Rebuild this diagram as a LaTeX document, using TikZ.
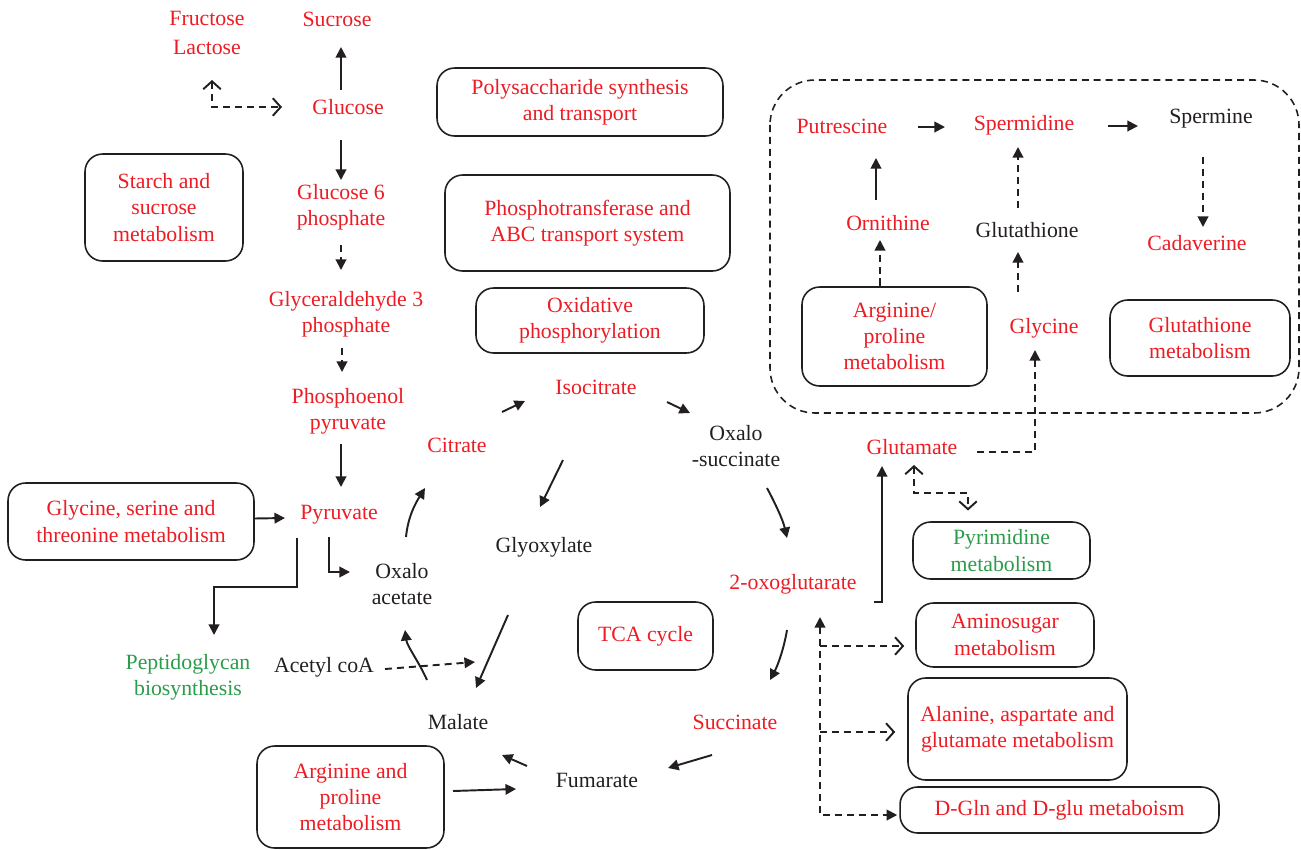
\documentclass[tikz,border=0pt]{standalone}
\usepackage{fontspec}
\setmainfont{Liberation Serif}
\usetikzlibrary{arrows.meta}
\definecolor{pred}{HTML}{ED1C24}
\definecolor{pgreen}{HTML}{2A9D4A}
\definecolor{ink}{HTML}{231F20}

\begin{document}
\begin{tikzpicture}[x=0.02cm, y=-0.02cm,
  font=\fontsize{12.4}{15}\selectfont,
  met/.style={text=pred, align=center, inner sep=1pt},
  cpd/.style={text=ink, align=center, inner sep=1pt},
  grn/.style={text=pgreen, align=center, inner sep=1pt},
  pathway/.style={draw=ink, line width=0.9pt, rounded corners=10pt,
                  align=center, text=pred, inner sep=2pt},
  conn/.style={ink, line width=1.1pt, -{Triangle[length=6pt,width=6pt]}},
  dconn/.style={conn, dash pattern=on 4pt off 2.8pt},
  dboth/.style={dconn, {Triangle[length=6pt,width=6pt]}-{Triangle[length=6pt,width=6pt]}},
  oconn/.style={dconn, -{Straight Barb[length=4.5pt,width=10pt]}},
  oboth/.style={dconn, {Straight Barb[length=4.5pt,width=10pt]}-{Straight Barb[length=4.5pt,width=10pt]}}
]
  \useasboundingbox (0,0) rectangle (1301,849);

  % polyamine region
  \draw[ink, line width=0.9pt, dash pattern=on 4pt off 2.8pt, rounded corners=0.9cm]
    (770,80) rectangle (1299,413);

  % compounds
  \node[met] (fl)  at (207,33)  {Fructose\\[1.5pt]Lactose};
  \node[met] (suc) at (337,19)  {Sucrose};
  \node[met] (glc) at (348,107) {Glucose};
  \node[met] (g6p) at (341,207) {Glucose 6\\phosphate};
  \node[met] (gap) at (346,314) {Glyceraldehyde 3\\phosphate};
  \node[met] (pep) at (348,411) {Phosphoenol\\pyruvate};
  \node[met] (pyr) at (339,515) {Pyruvate};
  \node[met] (cit) at (457,445) {Citrate};
  \node[met] (iso) at (596,387) {Isocitrate};
  \node[cpd] (oxs) at (736,446) {Oxalo\\-succinate};
  \node[cpd] (glx) at (544,547) {Glyoxylate};
  \node[cpd] (oaa) at (402,584) {Oxalo\\acetate};
  \node[cpd] (acoa) at (324,667) {Acetyl coA};
  \node[cpd] (mal) at (458,722) {Malate};
  \node[cpd] (fum) at (597,780) {Fumarate};
  \node[met] (suca) at (735,722) {Succinate};
  \node[met] (ogl) at (793,584) {2-oxoglutarate};
  \node[met] (glu) at (912,447) {Glutamate};
  \node[grn] (pgn) at (188,677) {Peptidoglycan\\biosynthesis};
  \node[met] (put) at (842,126) {Putrescine};
  \node[met] (spd) at (1024,125) {Spermidine};
  \node[cpd] (spm) at (1211,119) {Spermine};
  \node[met] (orn) at (888,223) {Ornithine};
  \node[cpd] (gsh) at (1027,230) {Glutathione};
  \node[met] (cad) at (1197,243) {Cadaverine};
  \node[met] (gly) at (1044,328) {Glycine};

  % pathways
  \node[pathway, minimum width=3.16cm, minimum height=2.14cm] (starch) at (164,207.5) {Starch and\\sucrose\\metabolism};
  \node[pathway, minimum width=5.72cm, minimum height=1.36cm] (poly) at (580,102) {Polysaccharide synthesis\\and transport};
  \node[pathway, minimum width=5.70cm, minimum height=1.92cm] (pts) at (587.5,223) {Phosphotransferase and\\ABC transport system};
  \node[pathway, minimum width=4.56cm, minimum height=1.30cm] (oxp) at (590,320.5) {Oxidative\\phosphorylation};
  \node[pathway, minimum width=4.92cm, minimum height=1.54cm] (gst) at (131,521.5) {Glycine, serine and\\threonine metabolism};
  \node[pathway, minimum width=2.70cm, minimum height=1.36cm] (tca) at (645.5,636) {TCA cycle};
  \node[pathway, minimum width=3.74cm, minimum height=2.04cm] (argpro) at (350.5,797) {Arginine and\\proline\\metabolism};
  \node[pathway, minimum width=3.70cm, minimum height=1.98cm] (argp2) at (894.5,336.5) {Arginine/\\proline\\metabolism};
  \node[pathway, minimum width=3.60cm, minimum height=1.52cm] (gshm) at (1200,338) {Glutathione\\metabolism};
  \node[pathway, minimum width=3.54cm, minimum height=1.14cm, text=pgreen] (pyrm) at (1001.5,550.5) {Pyrimidine\\metabolism};
  \node[pathway, minimum width=3.56cm, minimum height=1.28cm] (amino) at (1005,635) {Aminosugar\\metabolism};
  \node[pathway, minimum width=4.38cm, minimum height=2.04cm] (ala) at (1017.5,729) {Alanine, aspartate and\\glutamate metabolism};
  \node[pathway, minimum width=6.38cm, minimum height=0.92cm] (dgln) at (1059.5,810) {D-Gln and D-glu metaboism};

  % glycolysis
  \draw[conn] ([shift={(-7,-17)}]glc.center) -- ([shift={(4,28)}]suc.center);
  \draw[oboth] ([shift={(5,47)}]fl.center) |- ([shift={(-66,0)}]glc.center);
  \draw[conn] ([shift={(-7,33)}]glc.center) -- ([shift={(0,-27)}]g6p.center);
  \draw[dconn] ([shift={(0,38)}]g6p.center) -- ([shift={(-5,-44)}]gap.center);
  \draw[dconn] ([shift={(-4,34)}]gap.center) -- ([shift={(-6,-39)}]pep.center);
  \draw[conn] ([shift={(-7,33)}]pep.center) -- ([shift={(2,-28)}]pyr.center);
  \draw[conn] ([shift={(123,-3)}]gst.center) -- ([shift={(-54,3)}]pyr.center);
  \draw[conn] ([shift={(-42,23)}]pyr.center) -- ++(0,49) -| ([shift={(26,-42)}]pgn.center);
  \draw[conn] ([shift={(-10,22)}]pyr.center) |- ([shift={(-52,-12)}]oaa.center);

  % TCA and glyoxylate cycle
  \draw[conn] ([shift={(4,-47)}]oaa.center) .. controls +(2,-20) and +(-10,16) .. ([shift={(-32,43)}]cit.center);
  \draw[conn] ([shift={(45,-33)}]cit.center) -- ([shift={(-71,14)}]iso.center);
  \draw[conn] ([shift={(71,15)}]iso.center) -- ([shift={(-46,-33)}]oxs.center);
  \draw[conn] ([shift={(-33,73)}]iso.center) -- ([shift={(-4,-40)}]glx.center);
  \draw[conn] ([shift={(31,42)}]oxs.center) .. controls +(8,15) and +(-4,-18) .. ([shift={(-6,-46)}]ogl.center);
  \draw[conn] ([shift={(-6,46)}]ogl.center) .. controls +(-3,18) and +(8,-15) .. ([shift={(35,-42)}]suca.center);
  \draw[conn] ([shift={(-23,33)}]suca.center) -- ([shift={(71,-12)}]fum.center);
  \draw[conn] ([shift={(-70,-14)}]fum.center) -- ([shift={(44,33)}]mal.center);
  \draw[conn] ([shift={(-36,68)}]glx.center) -- ([shift={(18,-34)}]mal.center);
  \draw[conn] ([shift={(-31,-42)}]mal.center) .. controls +(-8,-18) and +(2,16) .. ([shift={(3,46)}]oaa.center);
  \draw[dconn] ([shift={(61,2)}]acoa.center) -- ([shift={(17,-60)}]mal.center);
  \draw[conn] ([shift={(102.5,-6)}]argpro.center) -- ([shift={(-81,9)}]fum.center);

  % glutamate branch
  \draw[conn] ([shift={(81,18)}]ogl.center) -| ([shift={(-30,19)}]glu.center);
  \draw[oboth] ([shift={(2,18)}]glu.center) -- ++(0,28) -| ([shift={(-33.5,-40)}]pyrm.center);
  \draw[dconn] ([shift={(65,5)}]glu.center) -| ([shift={(-9,22)}]gly.center);
  \draw[dboth] ([shift={(27,33)}]ogl.center) |- ([shift={(-2,5)}]dgln.west);
  \draw[oconn] ([shift={(27,62)}]ogl.center) -- ([shift={(-11,11)}]amino.west);
  \draw[oconn] ([shift={(27,148)}]ogl.center) -- ([shift={(-12,3)}]ala.west);

  % polyamines
  \draw[conn] ([shift={(76,1)}]put.center) -- ([shift={(-79,2)}]spd.center);
  \draw[conn] ([shift={(84,1)}]spd.center) -- ([shift={(-73,7)}]spm.center);
  \draw[dconn] ([shift={(-8,38)}]spm.center) -- ([shift={(6,-16)}]cad.center);
  \draw[conn] ([shift={(-12,-23)}]orn.center) -- ([shift={(34,32)}]put.center);
  \draw[dconn] ([shift={(-9,-22)}]gsh.center) -- ([shift={(-6,22)}]spd.center);
  \draw[dconn] ([shift={(-14.5,-51)}]argp2.center) -- ([shift={(-8,17)}]orn.center);
  \draw[dconn] ([shift={(-26,-36)}]gly.center) -- ([shift={(-9,22)}]gsh.center);
\end{tikzpicture}
\end{document}
